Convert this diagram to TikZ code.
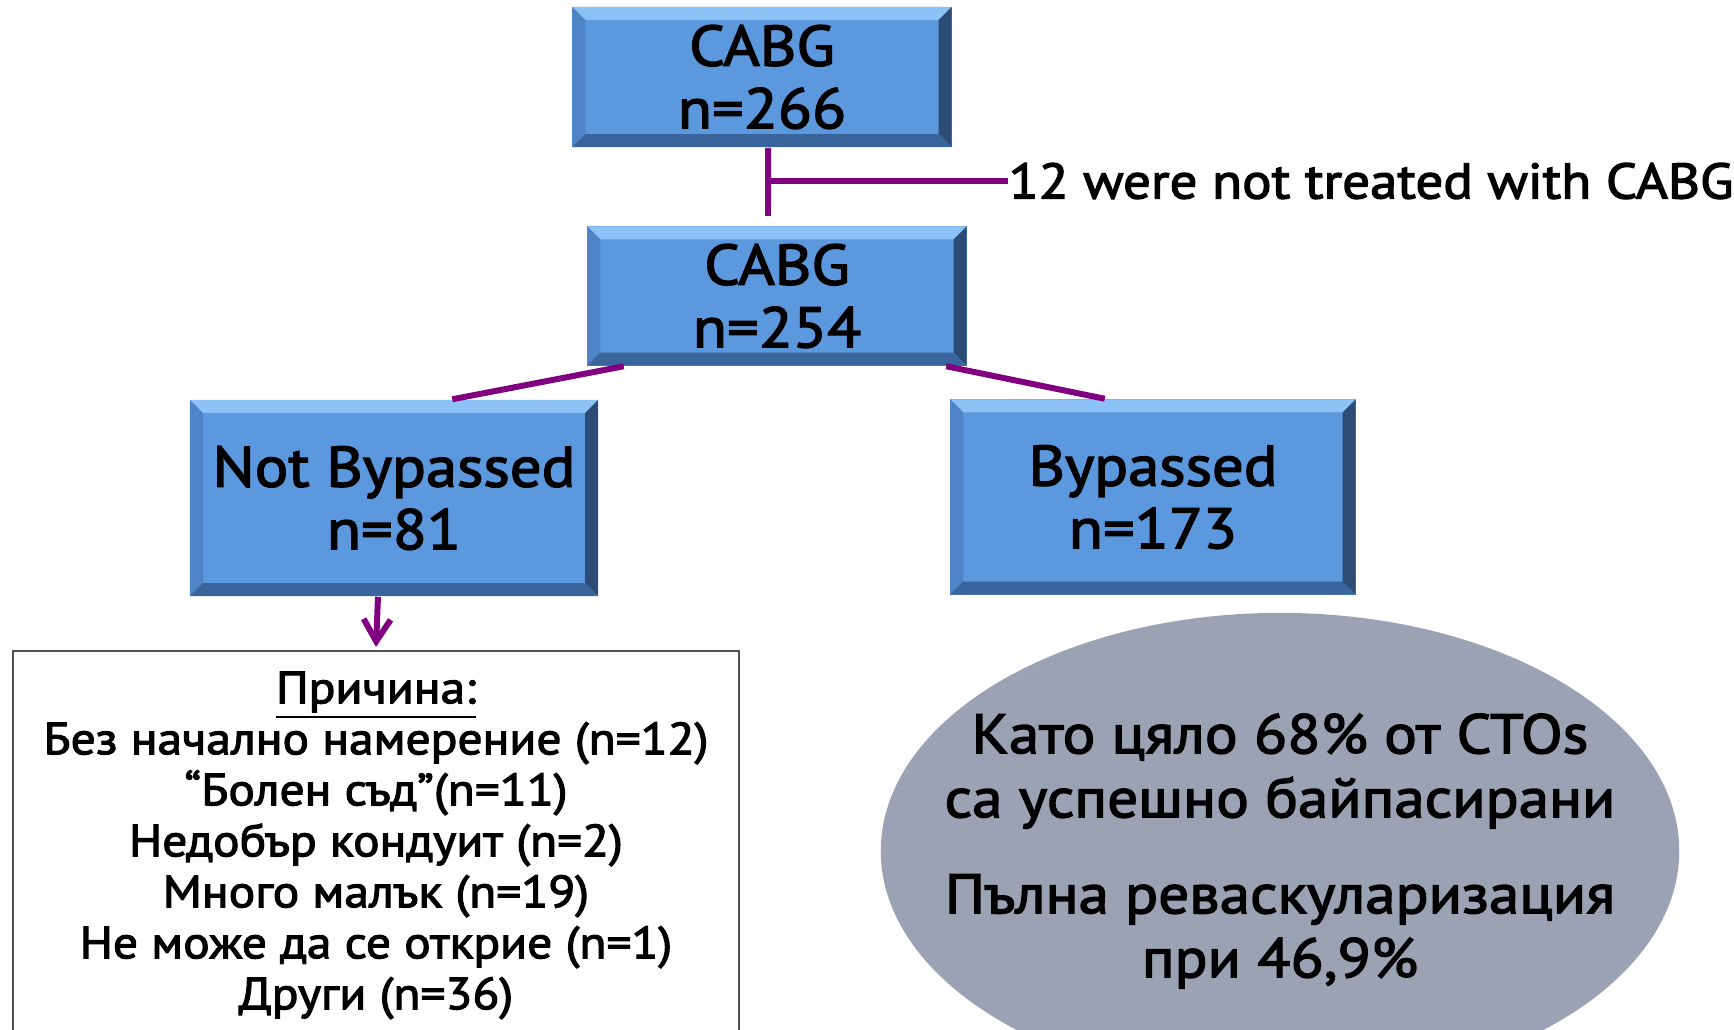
\documentclass[tikz,border=0pt]{standalone}
\usepackage{fontspec}
\setmainfont{PT Sans}[FakeBold=2.5, FakeStretch=1.1]
\usetikzlibrary{calc, positioning, shapes.geometric, arrows.meta}
\definecolor{boxblue}{RGB}{92,152,222}
\definecolor{bevtop}{RGB}{140,194,246}
\definecolor{bevleft}{RGB}{78,132,198}
\definecolor{bevright}{RGB}{44,76,118}
\definecolor{bevbottom}{RGB}{58,100,156}
\definecolor{ovalgrey}{RGB}{154,162,180}
\definecolor{linkpurple}{RGB}{128,0,128}
\definecolor{framegrey}{RGB}{80,80,80}
\def\bevsep{0.13cm}
\tikzstyle{link}=[draw=linkpurple, line width=1.7pt]
\tikzstyle{stage}=[rectangle, fill=boxblue, inner sep=0pt, align=center,
	font=\fontsize{16.2}{17.8}\selectfont,
	path picture={
		\path (path picture bounding box.north west) coordinate (bnw)
			(path picture bounding box.south east) coordinate (bse);
		\fill[bevtop] (bnw) -- (bnw -| bse) -- ($(bnw -| bse)+(-\bevsep,-\bevsep)$) -- ($(bnw)+(\bevsep,-\bevsep)$) -- cycle;
		\fill[bevleft] (bnw) -- ($(bnw)+(\bevsep,-\bevsep)$) -- ($(bnw |- bse)+(\bevsep,\bevsep)$) -- (bnw |- bse) -- cycle;
		\fill[bevright] (bnw -| bse) -- (bse) -- ($(bse)+(-\bevsep,\bevsep)$) -- ($(bnw -| bse)+(-\bevsep,-\bevsep)$) -- cycle;
		\fill[bevbottom] (bnw |- bse) -- (bse) -- ($(bse)+(-\bevsep,\bevsep)$) -- ($(bnw |- bse)+(\bevsep,\bevsep)$) -- cycle;
	}]
\tikzstyle{reason box}=[rectangle, draw=framegrey, line width=0.7pt, minimum width=7.26cm, minimum height=4.2cm, anchor=north]
\tikzstyle{reason text}=[align=center, inner sep=0pt, font=\fontsize{12.8}{14.5}\selectfont]
\tikzstyle{summary}=[ellipse, fill=ovalgrey, minimum width=7.98cm, minimum height=4.76cm, inner sep=0pt]

\begin{document}
\begin{tikzpicture}[x=0.01cm, y=-0.01cm]
	\useasboundingbox (0,0) rectangle (1734,1029);
	\clip (0,0) rectangle (1734,1029);

		\node[stage, minimum width=3.79cm, minimum height=1.40cm] (all) at (762,77) {CABG\\n=266};
		\node[stage, minimum width=3.79cm, minimum height=1.39cm] (cabg) at (777,296) {CABG\\n=254};
		\node[stage, minimum width=4.08cm, minimum height=1.96cm] (notby) at (394,498) {Not Bypassed\\n=81};
		\node[stage, minimum width=4.05cm, minimum height=1.95cm] (byp) at (1153,497) {Bypassed\\n=173};
		\node[anchor=west, inner sep=0pt, font=\fontsize{14.2}{17}\selectfont] (excl) at (1008,181) {12 were not treated with CABG};
		\coordinate (split) at (768,181);

		\node[reason box] (why) at (376,650) {};
		\node[reason text, below=0.21cm of why.north] (whylist) {\underline{Причина:}\\
			Без начално намерение (n=12)\\
			“Болен съд”(n=11)\\
			Недобър кондуит (n=2)\\
			Много малък (n=19)\\
			Не може да се открие (n=1)\\
			Други (n=36)};

		\node[summary] (oval) at (1280,851) {};
		\node[align=center, inner sep=0pt, font=\fontsize{15.8}{18.2}\selectfont] (ovaltext) at (oval.center)
			{Като цяло 68\% от CTOs\\са успешно байпасирани\\[0.32cm]Пълна реваскуларизация\\при 46,9\%};

		\path[link]
		([xshift=0.06cm]all.south) edge ([xshift=-0.09cm,yshift=0.1cm]cabg.north)
		(split) edge (excl.west)
		([xshift=0.37cm]cabg.south west) edge ([xshift=2.63cm]notby.north west)
		([xshift=-0.21cm]cabg.south east) edge ([xshift=1.55cm]byp.north west)
		([xshift=-0.16cm]notby.south) edge[-{Straight Barb[length=0.22cm,width=0.27cm]}] ([yshift=0.03cm]why.north);
	\end{tikzpicture}
\end{document}
